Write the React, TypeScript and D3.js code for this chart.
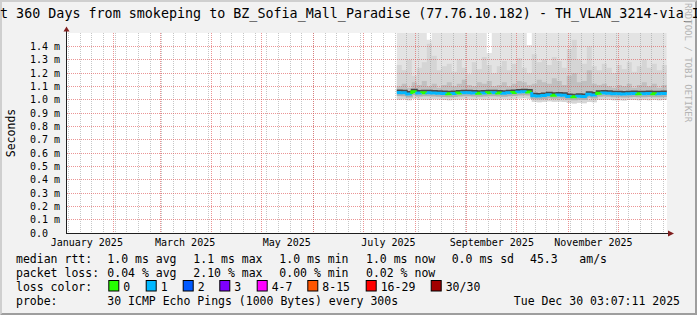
import React from "react";
import * as d3 from "d3";

const FONT = "'DejaVu Sans Mono', monospace";

const title =
  "Last 360 Days from smokeping to BZ_Sofia_Mall_Paradise (77.76.10.182) - TH_VLAN_3214-via_IT";
const yAxisTitle = "Seconds";
const watermark = "RRDTOOL / TOBI OETIKER";

// time frame
const endTime = Date.UTC(2025, 11, 30, 3, 7, 11);
const spanDays = 360;
const dataStart = Date.UTC(2025, 6, 21);
const bucketDays = 3;

// y ticks in ms
const yTicks = [0, 0.1, 0.2, 0.3, 0.4, 0.5, 0.6, 0.7, 0.8, 0.9, 1.0, 1.1, 1.2, 1.3, 1.4];

// median rtt per 3-day bucket (ms)
const median = [
  1.053, 1.052, 1.042, 1.06,
  1.05, 1.052, 1.051, 1.05, 1.049, 1.046, 1.045, 1.047, 1.05, 1.051,
  1.052, 1.05, 1.049, 1.05, 1.051, 1.052, 1.05, 1.049, 1.051, 1.053,
  1.058, 1.06, 1.057,
  1.03, 1.028, 1.031,
  1.036, 1.034, 1.035, 1.033,
  1.024, 1.022, 1.025, 1.023,
  1.04, 1.035,
  1.048, 1.05, 1.049,
  1.044, 1.045, 1.043, 1.045, 1.046, 1.044, 1.045, 1.047, 1.045, 1.044, 1.046,
];

// packet loss class per bucket (index into lossColors)
const lossIdx = [
  1, 1, 1, 0, 1, 0, 1, 1, 1, 1,
  0, 1, 0, 1, 1, 1, 0, 1, 0, 1,
  0, 1, 1, 0, 1, 1, 0, 1, 1, 1,
  1, 0, 1, 1, 1, 0, 1, 1, 1, 1,
  0, 1, 1, 1, 1, 1, 1, 1, 0, 1,
  1, 0, 1, 1,
];

// smoke: outer max (ms)
const smokeTop = [
  1.6, 1.6, 1.6, 1.6, 1.6, 1.6, 1.45, 1.6, 1.6, 1.6,
  1.6, 1.6, 1.6, 1.6, 1.6, 1.6, 1.6, 1.6, 1.35, 1.6,
  1.6, 1.6, 1.6, 1.6, 1.6, 1.6, 1.41, 1.6, 1.6, 1.6,
  1.6, 1.6, 1.6, 1.6, 1.6, 1.6, 1.6, 1.6, 1.6, 1.6,
  1.6, 1.6, 1.6, 1.6, 1.6, 1.6, 1.6, 1.6, 1.6, 1.6,
  1.6, 1.6, 1.6, 1.6,
];

// smoke: middle layer upper edge (ms)
const smokeMid = [
  1.26, 1.22, 1.3, 1.18, 1.24, 1.28, 1.42, 1.33, 1.22, 1.25,
  1.27, 1.21, 1.3, 1.24, 1.19, 1.28, 1.23, 1.32, 1.26, 1.2,
  1.25, 1.29, 1.22, 1.27, 1.31, 1.24, 1.2, 1.34, 1.28, 1.3,
  1.26, 1.32, 1.29, 1.24, 1.38, 1.45, 1.3, 1.27, 1.4, 1.25,
  1.22, 1.27, 1.24, 1.2, 1.26, 1.23, 1.28, 1.21, 1.25, 1.3,
  1.24, 1.27, 1.22, 1.26,
];

// smoke: dense inner layer upper edge (ms)
const smokeInner = [
  1.1, 1.12, 1.09, 1.13, 1.11, 1.14, 1.1, 1.12, 1.09, 1.11,
  1.13, 1.1, 1.12, 1.15, 1.11, 1.1, 1.13, 1.12, 1.14, 1.1,
  1.11, 1.13, 1.1, 1.12, 1.14, 1.13, 1.11, 1.12, 1.15, 1.13,
  1.12, 1.16, 1.14, 1.11, 1.18, 1.2, 1.13, 1.14, 1.22, 1.12,
  1.11, 1.12, 1.1, 1.09, 1.11, 1.1, 1.12, 1.09, 1.11, 1.13,
  1.1, 1.12, 1.09, 1.11,
];

// smoke: lower edge (ms)
const smokeLow = [
  1.0, 1.004, 0.995, 1.006, 1.002, 1.0, 0.998, 1.003, 1.001, 0.997,
  0.996, 0.999, 1.002, 1.004, 1.001, 0.999, 1.003, 1.0, 1.002, 0.998,
  1.001, 1.004, 1.0, 1.003, 1.008, 1.01, 1.006, 0.985, 0.98, 0.984,
  0.988, 0.985, 0.987, 0.983, 0.975, 0.972, 0.977, 0.974, 0.982, 0.98,
  0.998, 1.0, 0.999, 0.995, 0.996, 0.994, 0.997, 0.998, 0.995, 0.997,
  0.996, 0.999, 0.995, 0.997,
];

const lossLabels = ["0", "1", "2", "3", "4-7", "8-15", "16-29", "30/30"];
const lossColors = ["#26ff00", "#00b8ff", "#0059ff", "#7e00ff", "#ff00ff", "#ff5500", "#ff0000", "#a10000"];

const rttStats = ["1.0 ms avg", "1.1 ms max", "1.0 ms min", "1.0 ms now", "0.0 ms sd", "45.3", "am/s"];
const lossStats = ["0.04 % avg", "2.10 % max", "0.00 % min", "0.02 % now"];
const probeText = "30 ICMP Echo Pings (1000 Bytes) every 300s";
const stampText = "Tue Dec 30 03:07:11 2025";

// layout
const W = 697;
const H = 315;
const PL = 67, PR = 667, PT = 33, PB = 233;
const statCols = [107.3, 193.3, 279.3, 366, 451.7, 530, 579.3];
const boxCols = [108.3, 145.7, 182.7, 219.3, 256.7, 307.3, 365.7, 430.7];

export default function App() {
  const DAY = 864e5;
  const start = new Date(endTime - spanDays * DAY);
  const end = new Date(endTime);
  const x = d3.scaleUtc().domain([start, end]).range([PL, PR]);
  const y = d3.scaleLinear().domain([0, 1.5]).range([PB, PT]);

  const n = median.length;
  const idx = d3.range(n + 1);
  const xs = idx.map((i) => x(new Date(dataStart + i * bucketDays * DAY)));
  const at = (arr: number[]) => (i: number) => arr[Math.min(i, n - 1)];

  const band = (lo: number[], hi: number[]) =>
    d3
      .area<number>()
      .x((i) => xs[i])
      .y0((i) => y(at(lo)(i)))
      .y1((i) => y(at(hi)(i)))
      .curve(d3.curveStepAfter)(idx) || "";

  const medLine =
    d3
      .line<number>()
      .x((i) => xs[i])
      .y((i) => y(at(median)(i)))
      .curve(d3.curveStepAfter)(idx) || "";

  const segs = d3.range(n).map((i) => {
    const pts: [number, number][] =
      i === 0
        ? [[xs[0], y(median[0])], [xs[1], y(median[0])]]
        : [[xs[i], y(median[i - 1])], [xs[i], y(median[i])], [xs[i + 1], y(median[i])]];
    return { d: d3.line()(pts) || "", color: lossColors[lossIdx[i]] };
  });

  const weeks = d3.utcSunday.range(start, end);
  const months = d3.utcMonth.range(start, end);
  const labelMonths = d3.utcMonth.every(2)!.range(new Date(Date.UTC(2025, 0, 1)), end);
  const fmt = d3.utcFormat("%B %Y");
  const px = (v: number) => Math.floor(v) + 0.5;

  const gridColor = "rgba(143,143,143,0.5)";
  const mgridColor = "rgba(222,79,79,0.6)";

  return (
    <svg
      width={W}
      height={H}
      style={{ position: "absolute", left: 0, top: 0, display: "block" }}
      fontFamily={FONT}
    >
      <defs>
        <clipPath id="plot">
          <rect x={PL} y={PT} width={PR - PL} height={PB - PT} />
        </clipPath>
      </defs>
      <rect x={0} y={0} width={W} height={H} fill="#f2f2f2" />
      {/* frame */}
      <polygon points={`0,0 ${W},0 ${W - 2},2 2,2 2,${H - 2} 0,${H}`} fill="#cfcfcf" />
      <polygon points={`${W},${H} 0,${H} 2,${H - 2} ${W - 2},${H - 2} ${W - 2},2 ${W},0`} fill="#9e9e9e" />

      {/* title */}
      <text x={-24.1} y={18} fontSize={13.37} fill="#000">
        {title}
      </text>
      <text
        transform={`translate(685,3) rotate(90)`}
        fontSize={9}
        fill="#b4b4b4"
      >
        {watermark}
      </text>
      <text transform={`translate(15,${(PT + PB) / 2}) rotate(-90)`} textAnchor="middle" fontSize={11.5}>
        {yAxisTitle}
      </text>

      {/* canvas */}
      <rect x={PL} y={PT} width={PR - PL} height={PB - PT} fill="#ffffff" />

      <g clipPath="url(#plot)">
        <path d={band(smokeLow, smokeTop)} fill="#e3e3e3" />
        <path d={band(smokeLow, smokeMid)} fill="#d5d5d5" />
        <path d={band(median, smokeInner)} fill="#c0c0c0" />
      </g>

      {/* grid */}
      <g strokeWidth={1} strokeDasharray="1,1" fill="none">
        {weeks.map((d, i) => (
          <line key={"w" + i} x1={px(x(d))} x2={px(x(d))} y1={PT} y2={PB} stroke={gridColor} />
        ))}
        {months.map((d, i) => (
          <line key={"m" + i} x1={px(x(d))} x2={px(x(d))} y1={PT} y2={PB} stroke={mgridColor} />
        ))}
        {yTicks.slice(1).map((t, i) => (
          <line key={"h" + i} x1={PL} x2={PR} y1={px(y(t))} y2={px(y(t))} stroke={mgridColor} />
        ))}
      </g>

      <g clipPath="url(#plot)">
        <path d={medLine} fill="none" stroke="#b0b0b0" strokeWidth={2} transform="translate(0,2.5)" />
        <path d={medLine} fill="none" stroke="#4a4a4a" strokeWidth={2} transform="translate(0,-2)" />
        {segs.map((s, i) => (
          <path key={i} d={s.d} fill="none" stroke={s.color} strokeWidth={3} strokeLinejoin="miter" />
        ))}
      </g>

      {/* axes */}
      <line x1={66} x2={668} y1={PB + 0.5} y2={PB + 0.5} stroke="#1f1f1f" />
      <line x1={66.5} x2={66.5} y1={PB + 1} y2={31} stroke="#1f1f1f" />
      <polygon points={`668,230.5 668,236.5 674,233.5`} fill="#801f1f" />
      <polygon points={`63.5,31.5 69.5,31.5 66.5,26.5`} fill="#801f1f" />

      {/* y labels */}
      {yTicks.map((t, i) => (
        <text key={"yl" + i} x={30} y={px(y(t)) + 3.8} fontSize={10}>
          {t === 0 ? "0.0" : `${d3.format(".1f")(t)} m`}
        </text>
      ))}
      {/* x labels */}
      {labelMonths.map((m, i) => (
        <text key={"xl" + i} x={x(d3.utcDay.offset(m, 15))} y={245.5} fontSize={10} textAnchor="middle">
          {fmt(m)}
        </text>
      ))}

      {/* legend */}
      <g fontSize={11.5} fill="#000">
        <text x={16} y={263}>median rtt:</text>
        {rttStats.map((s, i) => (
          <text key={"r" + i} x={statCols[i]} y={263}>
            {s}
          </text>
        ))}
        <text x={16} y={277}>packet loss:</text>
        {lossStats.map((s, i) => (
          <text key={"l" + i} x={statCols[i]} y={277}>
            {s}
          </text>
        ))}
        <text x={16} y={291}>loss color:</text>
        {lossLabels.map((s, i) => (
          <g key={"c" + i}>
            <rect x={boxCols[i] + 0.5} y={280.5} width={10} height={10.5} fill={lossColors[i]} stroke="#000" />
            <text x={boxCols[i] + 15} y={291}>
              {s}
            </text>
          </g>
        ))}
        <text x={16} y={305}>probe:</text>
        <text x={statCols[0]} y={305}>{probeText}</text>
        <text x={680} y={305} textAnchor="end">
          {stampText}
        </text>
      </g>
    </svg>
  );
}
